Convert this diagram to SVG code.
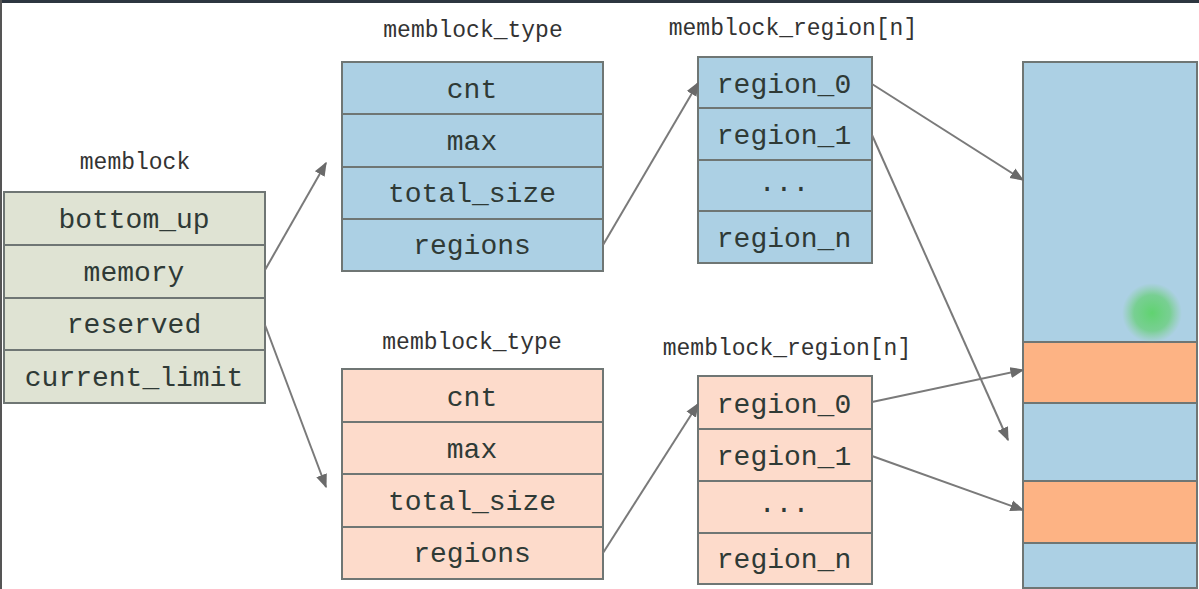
<svg xmlns="http://www.w3.org/2000/svg" width="1199" height="589" viewBox="0 0 1199 589">
<defs>
<style>
.cell{stroke:#6f7674;stroke-width:2}
.g{fill:#dfe3d3}
.b{fill:#acd0e4}
.p{fill:#fddbcb}
.o{fill:#fdb384}
.t{font-family:"Liberation Mono","DejaVu Sans Mono",monospace;font-size:28px;fill:#2f3a36;text-anchor:middle}
.l{font-family:"Liberation Mono","DejaVu Sans Mono",monospace;font-size:23px;fill:#333;text-anchor:middle}
.c{stroke:#7a7a7a;stroke-width:2;fill:none;marker-end:url(#ah)}
</style>
<marker id="ah" viewBox="0 0 10 10" refX="9" refY="5" markerWidth="7" markerHeight="7" orient="auto" markerUnits="strokeWidth">
<path d="M0,1 L10,5 L0,9 z" fill="#6a6a6a"/>
</marker>
<radialGradient id="gl">
<stop offset="0" stop-color="#5cd36a" stop-opacity="0.95"/>
<stop offset="0.6" stop-color="#62cf70" stop-opacity="0.7"/>
<stop offset="1" stop-color="#7ad07f" stop-opacity="0"/>
</radialGradient>
</defs>
<rect width="1199" height="589" fill="#ffffff"/>
<rect x="0" y="0" width="1199" height="3" fill="#2d3640"/>
<rect x="0" y="0" width="2" height="589" fill="#555"/>

<g id="memblock">
<text class="l" x="135" y="169">memblock</text>
<rect class="cell g" x="4" y="192" width="261" height="53"/>
<rect class="cell g" x="4" y="245" width="261" height="53"/>
<rect class="cell g" x="4" y="298" width="261" height="52"/>
<rect class="cell g" x="4" y="350" width="261" height="53"/>
<text class="t" x="134" y="228">bottom_up</text>
<text class="t" x="134" y="281">memory</text>
<text class="t" x="134" y="333">reserved</text>
<text class="t" x="134" y="386">current_limit</text>
</g>

<g id="memblock_type_memory">
<text class="l" x="473" y="37">memblock_type</text>
<rect class="cell b" x="342" y="62" width="261" height="52"/>
<rect class="cell b" x="342" y="114" width="261" height="53"/>
<rect class="cell b" x="342" y="167" width="261" height="52"/>
<rect class="cell b" x="342" y="219" width="261" height="52"/>
<text class="t" x="472" y="98">cnt</text>
<text class="t" x="472" y="150">max</text>
<text class="t" x="472" y="202">total_size</text>
<text class="t" x="472" y="254">regions</text>
</g>

<g id="memblock_region_memory">
<text class="l" x="793" y="35">memblock_region[n]</text>
<rect class="cell b" x="698" y="57" width="174" height="51"/>
<rect class="cell b" x="698" y="108" width="174" height="52"/>
<rect class="cell b" x="698" y="160" width="174" height="51"/>
<rect class="cell b" x="698" y="211" width="174" height="52"/>
<text class="t" x="784" y="93">region_0</text>
<text class="t" x="784" y="144">region_1</text>
<text class="t" x="784" y="191">...</text>
<text class="t" x="784" y="247">region_n</text>
</g>

<g id="memblock_type_reserved">
<text class="l" x="472" y="349">memblock_type</text>
<rect class="cell p" x="342" y="369" width="261" height="53"/>
<rect class="cell p" x="342" y="422" width="261" height="52"/>
<rect class="cell p" x="342" y="474" width="261" height="53"/>
<rect class="cell p" x="342" y="527" width="261" height="52"/>
<text class="t" x="472" y="406">cnt</text>
<text class="t" x="472" y="458">max</text>
<text class="t" x="472" y="510">total_size</text>
<text class="t" x="472" y="562">regions</text>
</g>

<g id="memblock_region_reserved">
<text class="l" x="787" y="355">memblock_region[n]</text>
<rect class="cell p" x="698" y="376" width="174" height="53"/>
<rect class="cell p" x="698" y="429" width="174" height="52"/>
<rect class="cell p" x="698" y="481" width="174" height="52"/>
<rect class="cell p" x="698" y="533" width="174" height="51"/>
<text class="t" x="784" y="413">region_0</text>
<text class="t" x="784" y="465">region_1</text>
<text class="t" x="784" y="512">...</text>
<text class="t" x="784" y="568">region_n</text>
</g>

<g id="physical_memory">
<rect class="cell b" x="1023" y="62" width="174" height="280"/>
<rect class="cell o" x="1023" y="342" width="174" height="61"/>
<rect class="cell b" x="1023" y="403" width="174" height="78"/>
<rect class="cell o" x="1023" y="481" width="174" height="62"/>
<rect class="cell b" x="1023" y="543" width="174" height="45"/>
<circle cx="1152" cy="313" r="30" fill="url(#gl)"/>
</g>

<g id="connectors">
<line class="c" x1="265" y1="270" x2="326" y2="163"/>
<line class="c" x1="265" y1="325" x2="326" y2="487"/>
<line class="c" x1="603" y1="245" x2="698" y2="83"/>
<line class="c" x1="603" y1="553" x2="698" y2="404"/>
<line class="c" x1="872" y1="84" x2="1023" y2="180"/>
<line class="c" x1="872" y1="135" x2="1008" y2="440"/>
<line class="c" x1="872" y1="402" x2="1023" y2="370"/>
<line class="c" x1="872" y1="456" x2="1023" y2="510"/>
</g>
</svg>
